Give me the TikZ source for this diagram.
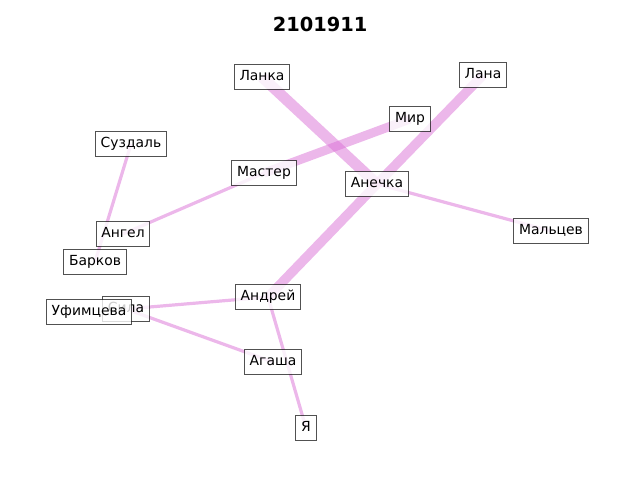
\documentclass[tikz,border=0pt]{standalone}
\usepackage{fontspec}
\setmainfont{DejaVu Sans}
\begin{document}
\begin{tikzpicture}[x=1pt,y=-1pt,
  lbl/.style={font=\fontsize{13.9}{16}\selectfont, draw=black!85, fill=white, fill opacity=0.8, draw opacity=0.8, text opacity=1, line width=1pt, inner xsep=5.2pt, inner ysep=0pt, text height=10.5pt, text depth=3pt, minimum height=24.5pt},
  edgethin/.style={draw=orchid, line width=3.2pt, opacity=0.5},
  edgethick/.style={draw=orchid, line width=9.5pt, opacity=0.5}]
\definecolor{orchid}{RGB}{218,112,214}
\useasboundingbox (0,0) rectangle (640,480);
\node[font=\bfseries\fontsize{19.4}{22}\selectfont] (title) at (320,24) {2101911};
\coordinate (cLanka) at (262,77);
\coordinate (cLana) at (483,75);
\coordinate (cMir) at (410,119);
\coordinate (cSuzd) at (131,144);
\coordinate (cMaster) at (264,173);
\coordinate (cAnechka) at (377,184);
\coordinate (cAngel) at (123,234);
\coordinate (cMaltsev) at (551,231);
\coordinate (cBarkov) at (95,262);
\coordinate (cAndrey) at (268,297);
\coordinate (cSila) at (126,309);
\coordinate (cUfim) at (89,312);
\coordinate (cAgasha) at (273,362);
\coordinate (cYa) at (306,428);
% edges
\draw[edgethin] (cSuzd) -- (cBarkov);
\draw[edgethin] (cAngel) -- (cMaster);
\draw[edgethick, line width=9pt] (cMaster) -- (cMir);
\draw[edgethick, line width=11pt] (cLanka) -- (cAnechka);
\draw[edgethick] (cLana) -- (cAnechka);
\draw[edgethick] (cAnechka) -- (cAndrey);
\draw[edgethin] (cAnechka) -- (cMaltsev);
\draw[edgethin] (cAndrey) -- (cSila);
\draw[edgethin] (cSila) -- (cAgasha);
\draw[edgethin] (cAndrey) -- (cYa);
% nodes
\node[lbl] (Lanka) at (cLanka) {Ланка};
\node[lbl] (Lana) at (cLana) {Лана};
\node[lbl] (Mir) at (cMir) {Мир};
\node[lbl] (Suzd) at (cSuzd) {Суздаль};
\node[lbl] (Master) at (cMaster) {Мастер};
\node[lbl] (Anechka) at (cAnechka) {Анечка};
\node[lbl] (Angel) at (cAngel) {Ангел};
\node[lbl] (Maltsev) at (cMaltsev) {Мальцев};
\node[lbl] (Barkov) at (cBarkov) {Барков};
\node[lbl] (Andrey) at (cAndrey) {Андрей};
\node[lbl] (Sila) at (cSila) {Сила};
\node[lbl] (Ufim) at (cUfim) {Уфимцева};
\node[lbl] (Agasha) at (cAgasha) {Агаша};
\node[lbl] (Ya) at (cYa) {Я};
\end{tikzpicture}
\end{document}
